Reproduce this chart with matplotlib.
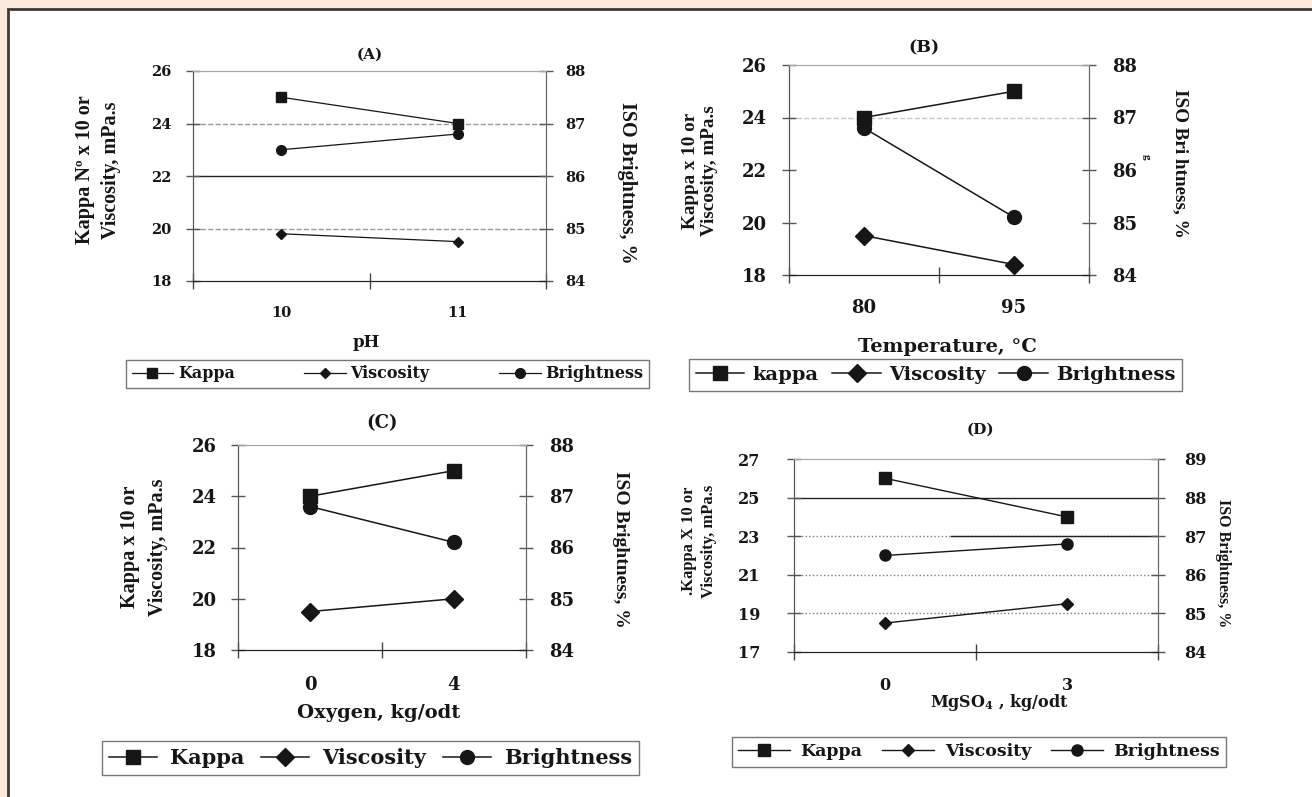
import matplotlib
matplotlib.use("Agg")
import matplotlib.pyplot as plt
import matplotlib.transforms as mtransforms
from matplotlib.patches import Rectangle

W, H = 1312, 797

# values (left axis: kappa / viscosity, right axis: brightness)
ph_levels = ["10", "11"]
ph_kappa = [25.0, 24.0]
ph_visc = [19.8, 19.5]
ph_bright = [86.5, 86.8]

temp_levels = ["80", "95"]
temp_kappa = [24.0, 25.0]
temp_visc = [19.5, 18.4]
temp_bright = [86.8, 85.1]

oxy_levels = ["0", "4"]
oxy_kappa = [24.0, 25.0]
oxy_visc = [19.5, 20.0]
oxy_bright = [86.8, 86.1]

mg_levels = ["0", "3"]
mg_kappa = [26.0, 24.0]
mg_visc = [18.5, 19.5]
mg_bright = [86.5, 86.8]

names = ["Kappa", "Viscosity", "Brightness"]
names_b = ["kappa", "Viscosity", "Brightness"]

plt.rcParams["mathtext.fontset"] = "dejavuserif"
plt.rcParams["mathtext.default"] = "bf"

fig = plt.figure(figsize=(W / 100, H / 100), dpi=100)
fig.patch.set_facecolor("#fbe9dc")
fig.add_artist(Rectangle((8 / W, -0.01), 1.0, 1.01 - 9 / H, transform=fig.transFigure,
                         facecolor="white", edgecolor="#3a3a3a", lw=2, zorder=-5))

# pixel coords (origin top-left) -> figure
PX = mtransforms.Affine2D().scale(1 / W, -1 / H).translate(0, 1) + fig.transFigure


def fbox(l, t, r, b):
    return [l / W, 1 - b / H, (r - l) / W, (b - t) / H]


HFONT = "DejaVu Serif"
VFONT = "Liberation Serif"
INK = "#161616"

DASH = ("--", "#9a9a9a", 0.0)
LDASH = ("--", "#c8c8c8", 0.0)
DOT = (":", "#7a7a7a", 0.0)
SOLID = ("-", "#222222", 0.0)

panels = [
    dict(axes=(193, 71, 546, 281), levels=ph_levels, kappa=ph_kappa, visc=ph_visc, bright=ph_bright,
         ylim=(18, 26), yticks=[18, 20, 22, 24, 26], y2lim=(84, 88), y2ticks=[84, 85, 86, 87, 88],
         grid={20: [DASH], 22: [SOLID], 24: [DASH]}, ms=(7, 5, 7), lw=0.9,
         tfs=10.5, xpad=18, ypad=10.5, y2pad=9,
         title="(A)", title_xy=(370, 55), tifs=11,
         xlabel="pH", xlabel_xy=(366, 343), xfs=12,
         ylabel="Kappa Nº x 10 or\nViscosity, mPa.s", ylabel_xy=(98, 170), yfs=14.5, yls=1.45,
         y2label="ISO Brightness, %", y2label_xy=(627, 183), y2fs=14.5,
         names=names, leg=(126, 360, 649, 388), lfs=11.5, hl=2.6, htp=0.3),
    dict(axes=(789, 65, 1089, 275), levels=temp_levels, kappa=temp_kappa, visc=temp_visc, bright=temp_bright,
         ylim=(18, 26), yticks=[18, 20, 22, 24, 26], y2lim=(84, 88), y2ticks=[84, 85, 86, 87, 88],
         grid={24: [LDASH]}, ms=(10, 9, 10), lw=1.1,
         tfs=13, xpad=17, ypad=11, y2pad=12,
         title="(B)", title_xy=(924, 48), tifs=12.5,
         xlabel="Temperature, °C", xlabel_xy=(947, 347), xfs=14,
         ylabel="Kappa x 10 or\nViscosity, mPa.s", ylabel_xy=(700, 171), yfs=13.8, yls=1.22,
         y2label="ISO Bri htness, %", y2label_xy=(1180, 163), y2fs=13.8,
         names=names_b, leg=(689, 359, 1182, 391), lfs=14, hl=2.5, htp=0.4),
    dict(axes=(238, 445, 526, 650), levels=oxy_levels, kappa=oxy_kappa, visc=oxy_visc, bright=oxy_bright,
         ylim=(18, 26), yticks=[18, 20, 22, 24, 26], y2lim=(84, 88), y2ticks=[84, 85, 86, 87, 88],
         grid={}, ms=(10, 9, 10), lw=1.1,
         tfs=13, xpad=19, ypad=10, y2pad=11.5,
         title="(C)", title_xy=(382, 423), tifs=13,
         xlabel="Oxygen, kg/odt", xlabel_xy=(379, 713), xfs=14,
         ylabel="Kappa x 10 or\nViscosity, mPa.s", ylabel_xy=(144, 547), yfs=14.5, yls=1.56,
         y2label="ISO Brightness, %", y2label_xy=(621, 549), y2fs=14,
         names=names, leg=(102, 741, 639, 775), lfs=15, hl=2.3, htp=0.6),
    dict(axes=(794, 459, 1158, 652), levels=mg_levels, kappa=mg_kappa, visc=mg_visc, bright=mg_bright,
         ylim=(17, 27), yticks=[17, 19, 21, 23, 25, 27], y2lim=(84, 89), y2ticks=[84, 85, 86, 87, 88, 89],
         grid={19: [DOT], 21: [DOT], 23: [DOT, ("-", "#222222", 0.43)], 25: [SOLID]}, ms=(8, 6, 8), lw=1.0,
         tfs=11.5, xpad=18, ypad=19.5, y2pad=13.5,
         title="(D)", title_xy=(980, 430), tifs=11,
         xlabel="MgSO$_4$ , kg/odt", xlabel_xy=(999, 703), xfs=11.5,
         ylabel=".Kappa X 10 or\nViscosity, mPa.s", ylabel_xy=(699, 541), yfs=12, yls=1.4,
         y2label="ISO Brightness, %", y2label_xy=(1223, 563), y2fs=11.5,
         names=names, leg=(732, 733, 1226, 771), lfs=12.5, hl=3.0, htp=0.6),
]


def draw_panel(p):
    ax = fig.add_axes(fbox(*p["axes"]))
    ax2 = ax.twinx()
    xs = [0.5, 1.5]
    ms = p["ms"]
    l1, = ax.plot(xs, p["kappa"], color=INK, lw=p["lw"], marker="s", ms=ms[0], zorder=3)
    l2, = ax.plot(xs, p["visc"], color=INK, lw=p["lw"], marker="D", ms=ms[1], zorder=3)
    l3, = ax2.plot(xs, p["bright"], color=INK, lw=p["lw"], marker="o", ms=ms[2], zorder=3)

    ax.set_xlim(0, 2)
    ax.set_ylim(*p["ylim"])
    ax.set_yticks(p["yticks"])
    ax2.set_ylim(*p["y2lim"])
    ax2.set_yticks(p["y2ticks"])

    # category axis: ticks between categories, labels centred in each slot
    ax.set_xticks([0, 1, 2], labels=["", "", ""])
    ax.set_xticks(xs, labels=p["levels"], minor=True)
    ax.tick_params(axis="x", which="major", direction="inout", length=12, width=1, color="#444")
    ax.tick_params(axis="x", which="minor", length=0, pad=p["xpad"])
    ax.tick_params(axis="y", direction="inout", length=10, width=1, color="#555", pad=p["ypad"])
    ax2.tick_params(axis="y", direction="inout", length=10, width=1, color="#555", pad=p["y2pad"])

    for a in (ax, ax2):
        for lab in a.get_xticklabels(minor=True) + a.get_yticklabels():
            lab.set_fontfamily(HFONT)
            lab.set_fontweight("bold")
            lab.set_fontsize(p["tfs"])
            lab.set_color(INK)
        a.spines["top"].set_color("#a8a8a8")
        a.spines["left"].set_color("#555555")
        a.spines["right"].set_color("#666666")
        a.spines["bottom"].set_color("#222222")

    for val, segs in p["grid"].items():
        for ls, col, x0 in segs:
            ax.axhline(val, xmin=x0, xmax=1, ls=ls, color=col, lw=1, zorder=1)

    ax.text(*p["title_xy"], p["title"], transform=PX, ha="center", va="center",
            family=HFONT, weight="bold", size=p["tifs"], color=INK)

    ax.set_xlabel(p["xlabel"], family=HFONT, weight="bold", size=p["xfs"], color=INK)
    ax.xaxis.set_label_coords(*p["xlabel_xy"], transform=PX)
    ax.xaxis.label.set_va("center")

    ax.set_ylabel(p["ylabel"], family=VFONT, weight="bold", size=p["yfs"], color=INK,
                  linespacing=p["yls"])
    ax.yaxis.set_label_coords(*p["ylabel_xy"], transform=PX)
    ax.yaxis.label.set(ha="center", va="center")

    ax2.set_ylabel(p["y2label"], rotation=270, family=VFONT, weight="bold", size=p["y2fs"], color=INK)
    ax2.yaxis.set_label_coords(*p["y2label_xy"], transform=PX)
    ax2.yaxis.label.set(ha="center", va="center")

    l, t, r, b = p["leg"]
    leg = ax.legend([l1, l2, l3], p["names"], loc="center", ncol=3, mode="expand",
                    bbox_to_anchor=(l / W, 1 - b / H, (r - l) / W, (b - t) / H),
                    bbox_transform=fig.transFigure, borderaxespad=0, borderpad=0.35,
                    handlelength=p["hl"], handletextpad=p["htp"], columnspacing=0.5,
                    fancybox=False, framealpha=1, edgecolor="#777777",
                    prop=dict(family=HFONT, weight="bold", size=p["lfs"]))
    leg.get_frame().set_linewidth(1.0)
    for txt in leg.get_texts():
        txt.set_color(INK)
    return ax


for p in panels:
    draw_panel(p)

# stray letter from the source figure's right-hand label in panel B
fig.text(1146, 157, "g", transform=PX, rotation=270, ha="center", va="center",
         family=VFONT, weight="bold", size=8, color=INK)

fig.savefig("out.png", dpi=100, facecolor=fig.get_facecolor())
